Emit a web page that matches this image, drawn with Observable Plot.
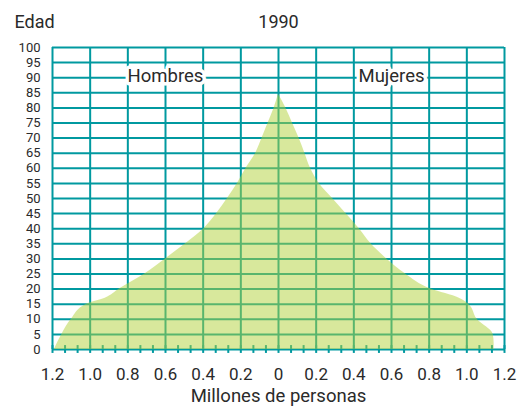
<!DOCTYPE html>
<html>
<head>
<meta charset="utf-8">
<script src="https://cdn.jsdelivr.net/npm/d3@7"></script>
<script src="https://cdn.jsdelivr.net/npm/@observablehq/plot@0.6"></script>
<style>
  html, body { margin: 0; padding: 0; background: #fff; }
  #chart svg { display: block; }
  #chart [aria-label^="x-axis"] text { font-size: 17px; }
  #chart [aria-label^="y-axis"] text { font-size: 13px; }
</style>
</head>
<body>
<div id="chart"></div>
<script>
// Population pyramid 1990 (millions of people by age)
const ages    = [0,    2,     5,    10,   15,   17,   20,    25,   30,   35,    40,    45,    50,    55,    60,    65,    70,    75,    80,    84.5];
const hombres = [1.19, 1.175, 1.15, 1.10, 1.02, 0.92, 0.845, 0.71, 0.60, 0.493, 0.396, 0.328, 0.271, 0.218, 0.172, 0.121, 0.087, 0.055, 0.023, 0];
const mujeres = [1.145,1.145, 1.14, 1.055,1.01, 0.96, 0.81,  0.675,0.575,0.491, 0.429, 0.358, 0.287, 0.216, 0.17,  0.14,  0.109, 0.074, 0.039, 0];

const xTicks = [-1.2, -1.0, -0.8, -0.6, -0.4, -0.2, 0, 0.2, 0.4, 0.6, 0.8, 1.0, 1.2];
const yTicks = [0, 5, 10, 15, 20, 25, 30, 35, 40, 45, 50, 55, 60, 65, 70, 75, 80, 85, 90, 95, 100];
const minorTicks = d3.range(-18, 19).map(i => i * 0.2 / 3);

const sideLabels = ["Hombres", "Mujeres"];
const sideLabelX = [-0.6, 0.6];
const sideLabelAge = [90, 90];

const title = "1990";
const yTitle = "Edad";
const xTitle = "Millones de personas";

const rows = ages.map((a, i) => ({age: a, h: hombres[i], m: mujeres[i]}));
const sides = sideLabels.map((t, i) => ({t, x: sideLabelX[i], y: sideLabelAge[i]}));

const teal = "#0099a0";
const ink = "#2a2a2a";

const chart = Plot.plot({
  width: 525,
  height: 415,
  marginLeft: 52,
  marginRight: 21,
  marginTop: 47,
  marginBottom: 66,
  style: {fontFamily: "Roboto, 'Noto Sans', sans-serif", fontSize: "13px", color: ink, background: "#fff"},
  x: {
    domain: [-1.2, 1.2],
    ticks: xTicks,
    tickSize: 0,
    tickPadding: 18,
    tickFormat: d => (Math.abs(d) < 1e-9 ? "0" : Math.abs(d).toFixed(1)),
    label: null
  },
  y: {
    domain: [0, 100],
    ticks: yTicks,
    tickSize: 0,
    tickPadding: 12,
    label: null
  },
  marks: [
    Plot.ruleX(xTicks, {stroke: teal, strokeWidth: 2}),
    Plot.ruleY(yTicks, {stroke: teal, strokeWidth: 2}),
    Plot.ruleX(minorTicks, {x: d => d, y1: -1.3, y2: 1.3, stroke: teal, strokeWidth: 2}),
    Plot.areaX(rows, {y: "age", x1: d => -d.h, x2: "m", fill: "#b1d139", fillOpacity: 0.5, curve: "monotone-y"}),
    Plot.text(sides, {x: "x", y: "y", text: "t", fontSize: 18.5, fill: ink, stroke: "white", strokeWidth: 7, paintOrder: "stroke", dy: -1.5}),
    Plot.text([title], {text: d => d, frameAnchor: "top", dy: -32.5, fontSize: 18, fill: ink}),
    Plot.text([yTitle], {text: d => d, frameAnchor: "top-left", dx: -38, dy: -32, textAnchor: "start", fontSize: 18, fill: ink}),
    Plot.text([xTitle], {text: d => d, frameAnchor: "bottom", dy: 52, fontSize: 18.5, fill: ink})
  ]
});
document.getElementById("chart").appendChild(chart);
</script>
</body>
</html>
